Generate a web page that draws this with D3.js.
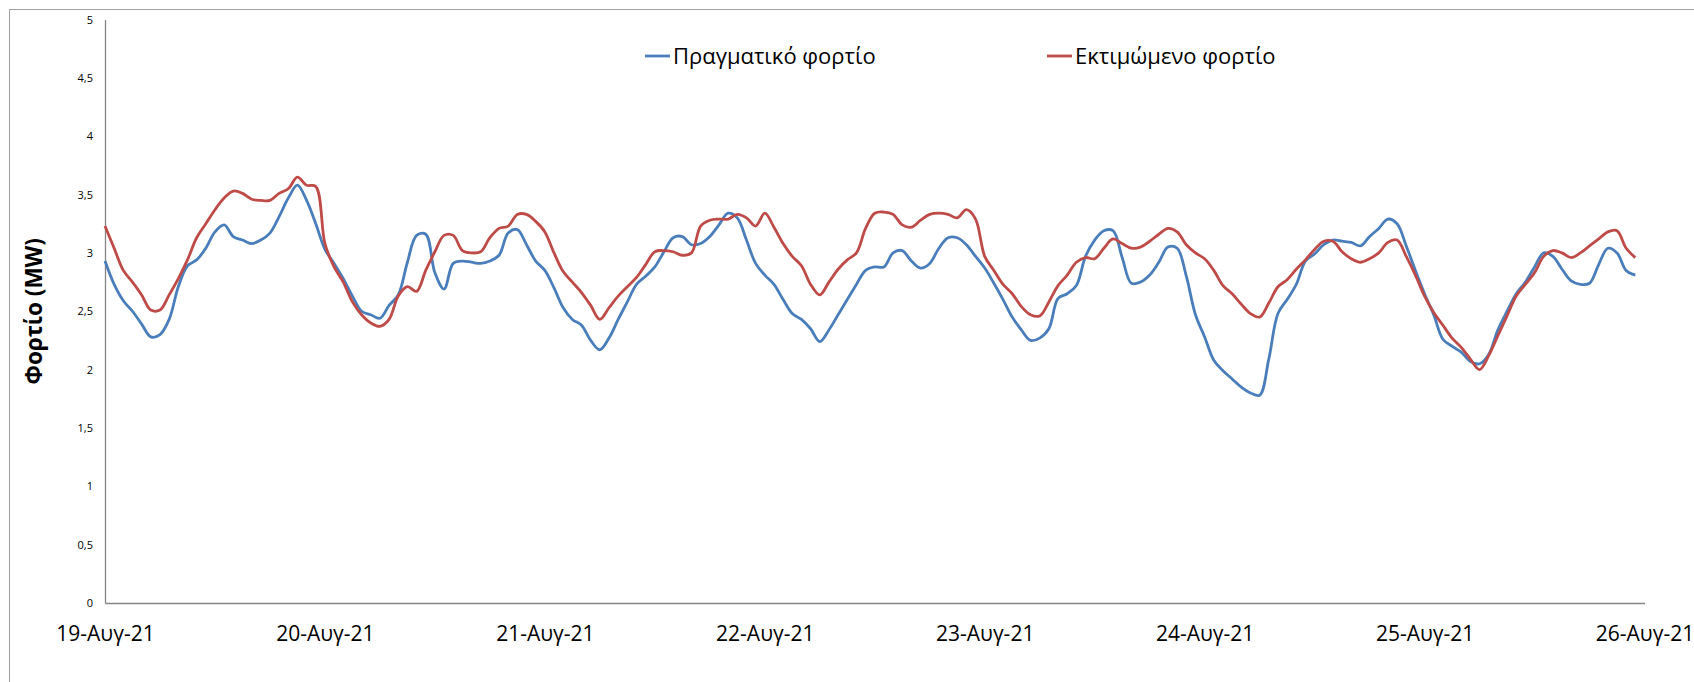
<!DOCTYPE html>
<html>
<head>
<meta charset="utf-8">
<script src="https://cdn.jsdelivr.net/npm/d3@7"></script>
<style>
  body { margin: 0; background: #fff; }
  text { font-family: "Open Sans", "Noto Sans", sans-serif; fill: #000; }
</style>
</head>
<body>
<svg id="chart" width="1694" height="682"></svg>
<script>
// hourly load in MW, starting 19-Aug-21 00:00
var startTime = new Date(2021, 7, 19, 0, 0);

var actualLoad = [
  2.93, 2.73, 2.59, 2.50, 2.39, 2.28, 2.30, 2.43, 2.71, 2.89,
  2.94, 3.04, 3.18, 3.24, 3.14, 3.11, 3.08, 3.11, 3.17, 3.31,
  3.47, 3.58, 3.45, 3.25, 3.03, 2.91, 2.78, 2.63, 2.50, 2.47,
  2.44, 2.55, 2.64, 2.92, 3.15, 3.16, 2.83, 2.69, 2.91, 2.93,
  2.92, 2.91, 2.93, 2.98, 3.17, 3.20, 3.07, 2.93, 2.85, 2.70,
  2.53, 2.43, 2.38, 2.25, 2.17, 2.27, 2.43, 2.58, 2.73, 2.80,
  2.88, 3.01, 3.13, 3.14, 3.07, 3.08, 3.14, 3.24, 3.34, 3.30,
  3.11, 2.91, 2.81, 2.73, 2.60, 2.48, 2.43, 2.35, 2.24, 2.34,
  2.47, 2.60, 2.73, 2.85, 2.88, 2.88, 3.00, 3.02, 2.93, 2.87,
  2.91, 3.04, 3.13, 3.13, 3.07, 2.97, 2.87, 2.74, 2.60, 2.45,
  2.34, 2.25, 2.27, 2.35, 2.61, 2.65, 2.72, 2.97, 3.11, 3.19,
  3.19, 2.96, 2.74, 2.75, 2.81, 2.92, 3.05, 3.04, 2.80, 2.47,
  2.28, 2.08, 1.99, 1.92, 1.85, 1.80, 1.78, 2.09, 2.48, 2.60,
  2.73, 2.93, 2.99, 3.07, 3.11, 3.10, 3.09, 3.06, 3.14, 3.21,
  3.29, 3.25, 3.06, 2.85, 2.65, 2.47, 2.26, 2.20, 2.15, 2.07,
  2.05, 2.13, 2.34, 2.50, 2.65, 2.75, 2.88, 3.00, 2.97, 2.86,
  2.76, 2.73, 2.74, 2.90, 3.04, 3.00, 2.85, 2.81
];

var forecastLoad = [
  3.23, 3.04, 2.85, 2.75, 2.64, 2.51, 2.51, 2.64, 2.78, 2.94,
  3.13, 3.25, 3.37, 3.47, 3.53, 3.51, 3.46, 3.45, 3.45, 3.51,
  3.55, 3.65, 3.58, 3.57, 3.08, 2.88, 2.75, 2.58, 2.47, 2.40,
  2.37, 2.43, 2.63, 2.71, 2.67, 2.85, 3.01, 3.15, 3.15, 3.02,
  3.00, 3.01, 3.13, 3.21, 3.23, 3.33, 3.33, 3.27, 3.18, 3.00,
  2.84, 2.75, 2.66, 2.55, 2.43, 2.53, 2.63, 2.71, 2.79, 2.90,
  3.01, 3.02, 3.01, 2.98, 3.00, 3.23, 3.28, 3.29, 3.29, 3.33,
  3.30, 3.23, 3.34, 3.22, 3.08, 2.97, 2.89, 2.73, 2.64, 2.75,
  2.86, 2.94, 3.00, 3.21, 3.34, 3.35, 3.33, 3.24, 3.22, 3.28,
  3.33, 3.34, 3.33, 3.30, 3.37, 3.29, 2.97, 2.85, 2.73, 2.65,
  2.54, 2.47, 2.46, 2.58, 2.72, 2.81, 2.92, 2.96, 2.95, 3.04,
  3.12, 3.08, 3.04, 3.05, 3.10, 3.16, 3.21, 3.18, 3.07, 3.00,
  2.95, 2.85, 2.72, 2.65, 2.56, 2.48, 2.45, 2.57, 2.71, 2.77,
  2.86, 2.94, 3.03, 3.10, 3.10, 3.01, 2.95, 2.92, 2.95, 3.00,
  3.09, 3.11, 2.97, 2.81, 2.63, 2.49, 2.38, 2.27, 2.19, 2.09,
  2.00, 2.12, 2.29, 2.46, 2.63, 2.73, 2.83, 2.97, 3.02, 3.00,
  2.96, 3.00, 3.06, 3.12, 3.18, 3.19, 3.04, 2.96
];

var dayLabels = ["19-Αυγ-21", "20-Αυγ-21", "21-Αυγ-21", "22-Αυγ-21",
                 "23-Αυγ-21", "24-Αυγ-21", "25-Αυγ-21", "26-Αυγ-21"];
var yTicks = [0, 0.5, 1, 1.5, 2, 2.5, 3, 3.5, 4, 4.5, 5];
var seriesNames = ["Πραγματικό φορτίο", "Εκτιμώμενο φορτίο"];
var seriesColors = ["#4a7ebb", "#be4b48"];
var yTitle = "Φορτίο (MW)";

var width = 1694, height = 682;
var margin = { top: 19.5, right: 49.5, bottom: 79, left: 105 };

var svg = d3.select("#chart");

//outer chart border (right and bottom sides fall outside the picture)
svg.append("rect")
    .attr("x", 9.5).attr("y", 9.5)
    .attr("width", width + 20).attr("height", height + 20)
    .attr("fill", "none")
    .attr("stroke", "#a0a0a0");

var x = d3.scaleTime()
    .domain([startTime, d3.timeDay.offset(startTime, 7)])
    .range([margin.left, width - margin.right]);

var y = d3.scaleLinear()
    .domain([0, 5])
    .range([height - margin.bottom, margin.top]);

var dayTicks = d3.range(8).map(function (i) { return d3.timeDay.offset(startTime, i); });

//y axis
var yAxis = svg.append("g")
    .attr("transform", "translate(" + margin.left + ",0)")
    .call(d3.axisLeft(y)
        .tickValues(yTicks)
        .tickSize(0)
        .tickPadding(12)
        .tickFormat(function (d) { return String(d).replace(".", ","); }));
yAxis.select(".domain").attr("stroke", "#868686").attr("stroke-width", 1.3);
yAxis.selectAll("text")
    .style("font-family", "'Open Sans', sans-serif")
    .style("font-size", "11px")
    .attr("fill", "#1a1a1a");

//x axis
var xAxis = svg.append("g")
    .attr("transform", "translate(0," + (height - margin.bottom) + ")")
    .call(d3.axisBottom(x)
        .tickValues(dayTicks)
        .tickSize(0)
        .tickPadding(23)
        .tickFormat(function (d, i) { return dayLabels[i]; }));
xAxis.select(".domain").attr("stroke", "#868686").attr("stroke-width", 1.3);
xAxis.selectAll("text")
    .style("font-family", "'Open Sans', sans-serif")
    .style("font-size", "21px")
    .attr("fill", "#000");

//y title
svg.append("text")
    .attr("transform", "translate(42," + (margin.top + (height - margin.bottom - margin.top) / 2) + ")rotate(-90)")
    .attr("text-anchor", "middle")
    .style("font-size", "22.5px")
    .style("font-weight", "bold")
    .text(yTitle);

//lines
var line = d3.line()
    .x(function (d, i) { return x(d3.timeHour.offset(startTime, i)); })
    .y(function (d) { return y(d); })
    .curve(d3.curveCatmullRom.alpha(0.5));

[actualLoad, forecastLoad].forEach(function (series, k) {
    svg.append("path")
        .datum(series)
        .attr("fill", "none")
        .attr("stroke", seriesColors[k])
        .attr("stroke-width", 2.8)
        .attr("stroke-linejoin", "round")
        .attr("d", line);
});

//legend
var legendX = [645, 1047];
var legend = svg.selectAll(".legend-item")
    .data(seriesNames)
    .enter().append("g")
    .attr("class", "legend-item")
    .attr("transform", function (d, i) { return "translate(" + legendX[i] + ",56)"; });
legend.append("line")
    .attr("x1", 0).attr("x2", 25)
    .attr("stroke", function (d, i) { return seriesColors[i]; })
    .attr("stroke-width", 2.8);
legend.append("text")
    .attr("x", 28)
    .attr("dy", "0.35em")
    .style("font-size", "22px")
    .text(function (d) { return d; });
</script>
</body>
</html>
